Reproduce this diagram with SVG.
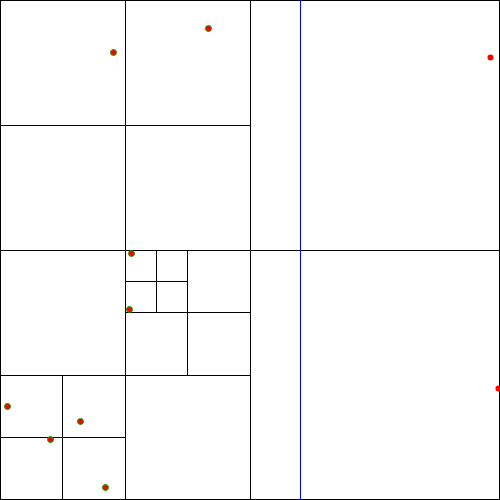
<svg xmlns="http://www.w3.org/2000/svg" width="500" height="500" viewBox="0 0 500 500">
<style>
.l{stroke:#000;stroke-width:1;fill:none}
.b{stroke:#00f;stroke-width:1}
.p{fill:#f00;stroke:#0a0;stroke-width:1}
.q{fill:#f00}
</style>
<rect width="500" height="500" fill="#fff"/>
<g id="connectors">
<rect class="l" x="0.5" y="0.5" width="499" height="499"/>
<line class="l" x1="250.5" y1="0" x2="250.5" y2="500"/>
<line class="l" x1="0" y1="250.5" x2="500" y2="250.5"/>
<line class="l" x1="125.5" y1="0" x2="125.5" y2="250"/>
<line class="l" x1="0" y1="125.5" x2="250" y2="125.5"/>
<line class="l" x1="125.5" y1="250" x2="125.5" y2="500"/>
<line class="l" x1="0" y1="375.5" x2="250" y2="375.5"/>
<line class="l" x1="187.5" y1="250" x2="187.5" y2="375"/>
<line class="l" x1="125" y1="312.5" x2="250" y2="312.5"/>
<line class="l" x1="156.5" y1="250" x2="156.5" y2="312"/>
<line class="l" x1="125" y1="281.5" x2="187" y2="281.5"/>
<line class="l" x1="62.5" y1="375" x2="62.5" y2="500"/>
<line class="l" x1="0" y1="437.5" x2="125" y2="437.5"/>
<line class="b" x1="300.5" y1="0" x2="300.5" y2="500"/>
</g>
<g id="points">
<circle class="p" cx="113.5" cy="52.5" r="3"/>
<circle class="p" cx="208.5" cy="28.5" r="3"/>
<circle class="q" cx="490.5" cy="57.5" r="3"/>
<circle class="p" cx="131.5" cy="253.5" r="3"/>
<circle class="p" cx="129.5" cy="309.5" r="3"/>
<circle class="p" cx="7.5" cy="406.5" r="3"/>
<circle class="p" cx="80.5" cy="421.5" r="3"/>
<circle class="p" cx="50.5" cy="439.5" r="3"/>
<circle class="p" cx="105.5" cy="487.5" r="3"/>
<circle class="q" cx="498.5" cy="388.5" r="3"/>
</g>
</svg>
